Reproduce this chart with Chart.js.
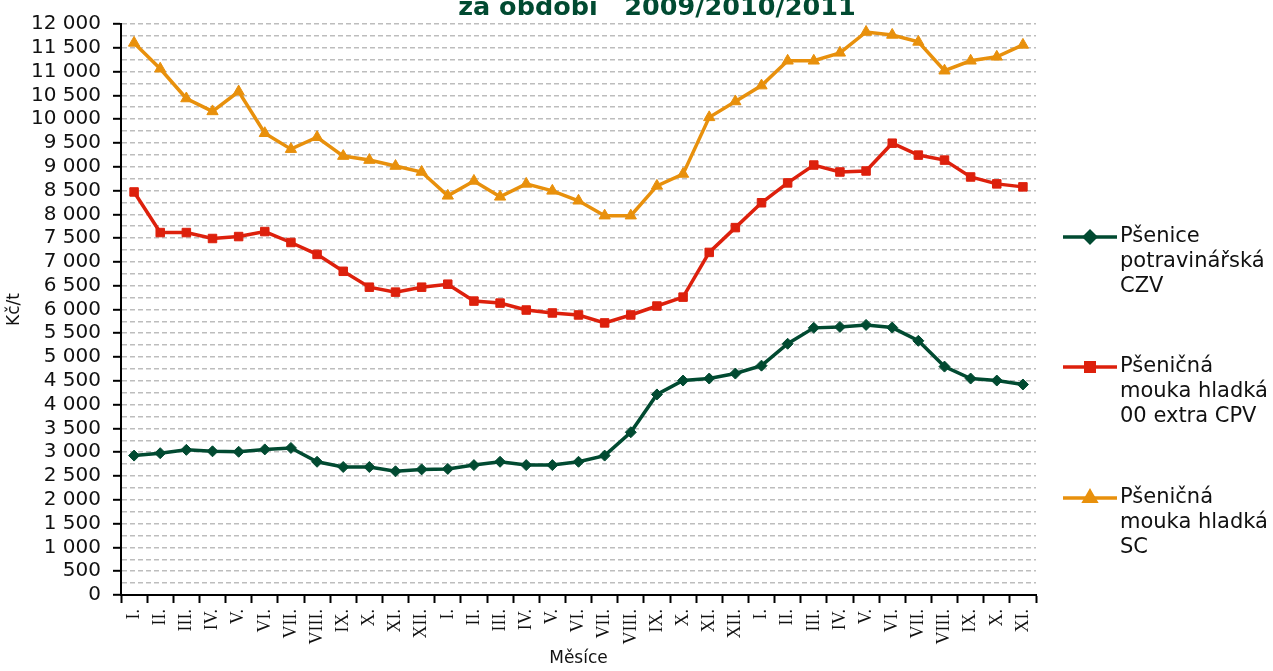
<!DOCTYPE html>
<html>
<head>
<meta charset="utf-8">
<script src="https://cdn.jsdelivr.net/npm/chart.js@4/dist/chart.umd.min.js"></script>
<style>
html,body{margin:0;padding:0;background:#fff;}
#wrap{width:1273px;height:671px;position:relative;}
</style>
</head>
<body>
<div id="wrap"><canvas id="c" width="1273" height="671"></canvas></div>
<script>
const months = ["I.","II.","III.","IV.","V.","VI.","VII.","VIII.","IX.","X.","XI.","XII.",
  "I.","II.","III.","IV.","V.","VI.","VII.","VIII.","IX.","X.","XI.","XII.",
  "I.","II.","III.","IV.","V.","VI.","VII.","VIII.","IX.","X.","XI."];
const psenice = [2930,2980,3050,3020,3010,3060,3090,2800,2690,2690,2600,2640,
  2650,2730,2800,2730,2730,2800,2930,3420,4215,4507,4549,4654,
  4820,5280,5614,5634,5676,5620,5342,4800,4549,4507,4424];
const moukaCPV = [8470,7617,7617,7492,7533,7638,7408,7158,6803,6469,6365,6469,
  6532,6177,6135,5989,5927,5885,5718,5885,6073,6260,7200,7721,
  8243,8660,9036,8890,8911,9495,9245,9140,8785,8640,8577];
const moukaSC = [11603,11060,10434,10163,10580,9704,9370,9620,9224,9140,9015,8890,
  8389,8702,8368,8640,8493,8285,7972,7972,8598,8848,10038,10372,
  10705,11227,11227,11394,11832,11770,11624,11018,11227,11310,11561];
const seriesNames = [["Pšenice","potravinářská","CZV"],["Pšeničná","mouka hladká","00 extra CPV"],["Pšeničná","mouka hladká","SC"]];
const titleText = "za období   2009/2010/2011";
const yTitle = "Kč/t";
const xTitle = "Měsíce";

const colors = ["#014a31","#dd200c","#e8900c"];
const styles = ["rectRot","rect","triangle"];
const radii = [5.5,6,6.5];

function fmt(v){ return String(v).replace(/\B(?=(\d{3})+(?!\d))/g, " "); }

const legendPlugin = {
  id:'customLegend',
  afterDraw(chart){
    const ctx = chart.ctx;
    ctx.save();
    // title
    ctx.font = "bold 25.5px 'DejaVu Sans'";
    ctx.fillStyle = "#014a31";
    ctx.textAlign = "center";
    ctx.textBaseline = "alphabetic";
    ctx.fillText(titleText, 657, 15);
    // legend
    const ys = [237, 367, 498];
    ctx.font = "21px 'DejaVu Sans'";
    ctx.textAlign = "left";
    ctx.textBaseline = "middle";
    for(let i=0;i<3;i++){
      const y = ys[i];
      ctx.strokeStyle = colors[i];
      ctx.lineWidth = 3.5;
      ctx.beginPath(); ctx.moveTo(1063,y); ctx.lineTo(1117,y); ctx.stroke();
      ctx.fillStyle = colors[i];
      Chart.helpers.drawPoint(ctx,{pointStyle:styles[i],radius:radii[i],rotation:0,borderWidth:1},1090,y);
      ctx.fillStyle = "#111";
      seriesNames[i].forEach((t,j)=>ctx.fillText(t,1120,y+j*25));
    }
    ctx.restore();
  }
};

new Chart(document.getElementById('c'),{
  type:'line',
  data:{
    labels: months,
    datasets:[
      {label:seriesNames[0].join(' '),data:psenice,borderColor:colors[0],backgroundColor:colors[0],pointStyle:styles[0],pointRadius:radii[0],borderWidth:3.5,pointBorderWidth:1},
      {label:seriesNames[1].join(' '),data:moukaCPV,borderColor:colors[1],backgroundColor:colors[1],pointStyle:styles[1],pointRadius:radii[1],borderWidth:3.5,pointBorderWidth:1},
      {label:seriesNames[2].join(' '),data:moukaSC,borderColor:colors[2],backgroundColor:colors[2],pointStyle:styles[2],pointRadius:radii[2],borderWidth:3.5,pointBorderWidth:1}
    ]
  },
  options:{
    responsive:false,
    animation:false,
    events:[],
    layout:{padding:{top:18,right:237,left:0,bottom:0}},
    plugins:{legend:{display:false},tooltip:{enabled:false},title:{display:false}},
    elements:{line:{tension:0}},
    scales:{
      x:{
        type:'category',
        offset:true,
        grid:{offset:true,drawOnChartArea:false,drawTicks:true,tickLength:8,tickColor:'#000',tickWidth:2},
        border:{color:'#000',width:2},
        ticks:{autoSkip:false,minRotation:90,maxRotation:90,padding:6,color:'#111',font:{family:"'Liberation Serif'",size:18}},
        title:{display:true,text:xTitle,color:'#111',font:{family:"'DejaVu Sans'",size:17},padding:{top:0,bottom:2}},
        afterFit(s){ s.height = 76; }
      },
      y:{
        min:0,max:12000,
        ticks:{stepSize:250,autoSkip:false,padding:12,color:'#111',font:{family:"'DejaVu Sans'",size:20},
          callback:(v)=> (v%500===0)? fmt(v) : ''},
        grid:{
          color:(c)=> (c.tick && c.tick.value===0) ? 'rgba(0,0,0,0)' : '#bdbdbd',
          lineWidth:1.6,
          tickLength:8,
          tickWidth:2,
          tickColor:(c)=> (c.tick && c.tick.value%500===0) ? '#000' : 'rgba(0,0,0,0)'
        },
        border:{color:'#000',width:2,dash:[5,3]},
        title:{display:true,text:yTitle,color:'#111',font:{family:"'DejaVu Sans'",size:17},padding:{top:4,bottom:0}},
        afterFit(s){ s.width = 121; }
      }
    }
  },
  plugins:[legendPlugin]
});
</script>
</body>
</html>
